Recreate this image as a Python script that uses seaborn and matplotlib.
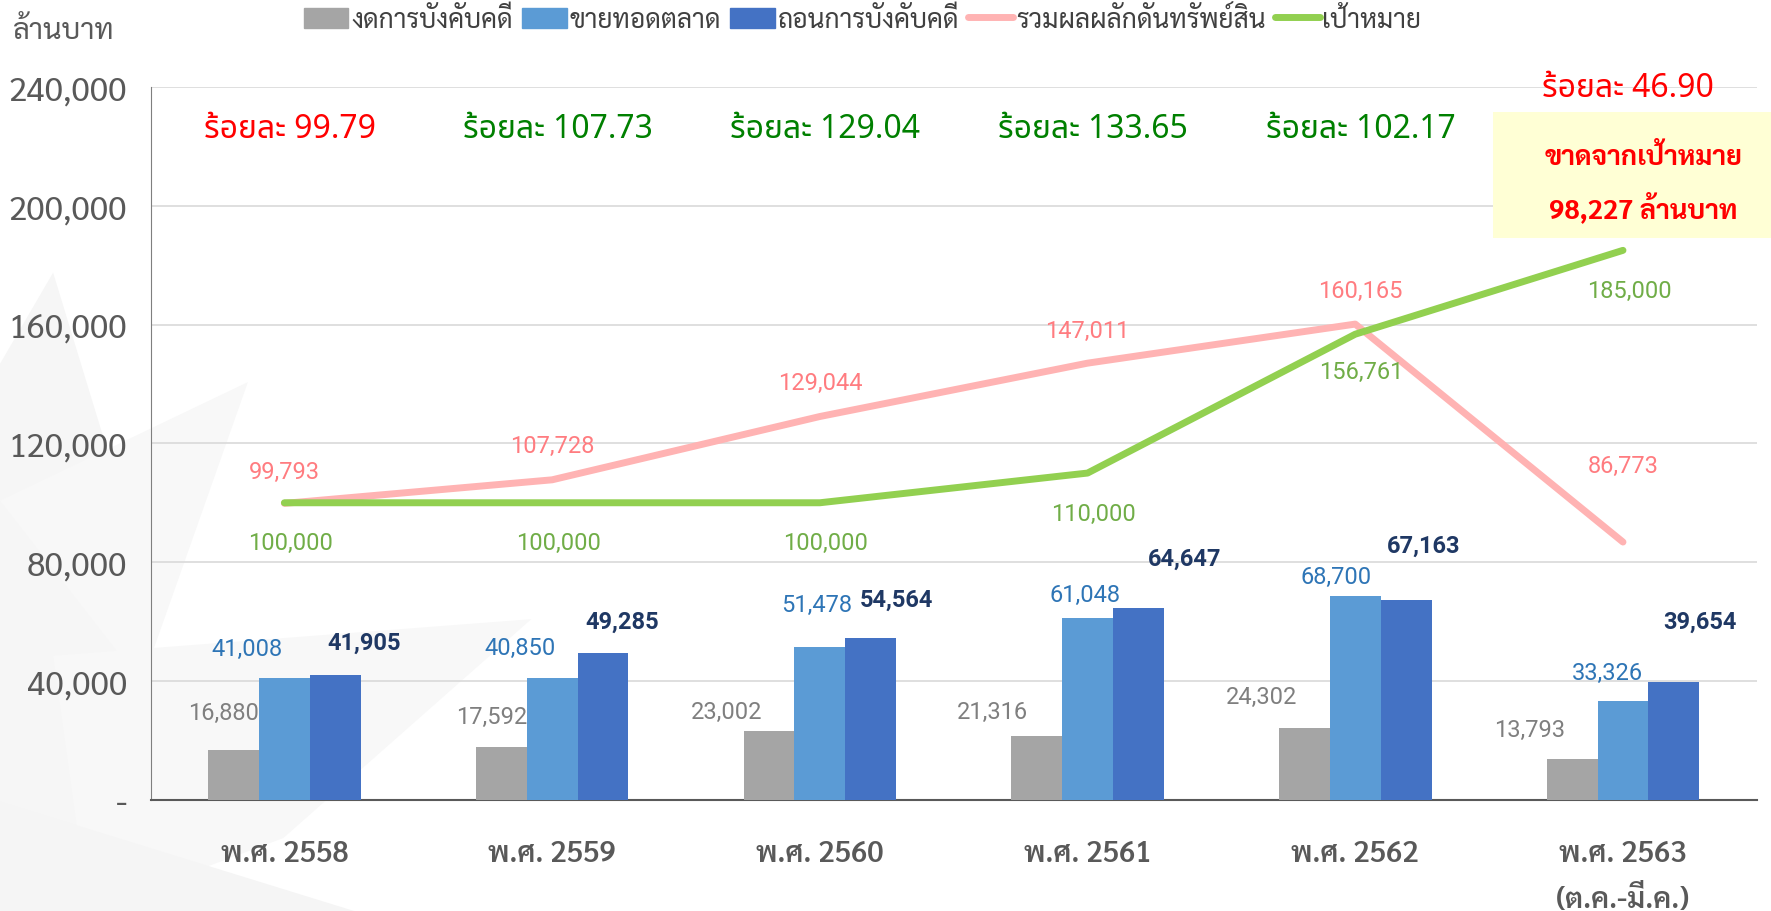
import matplotlib
matplotlib.use("Agg")
import numpy as np
import pandas as pd
import matplotlib.pyplot as plt
import seaborn as sns
from matplotlib.patches import Patch, Polygon, Rectangle
from matplotlib.lines import Line2D

years = ["พ.ศ. 2558", "พ.ศ. 2559", "พ.ศ. 2560", "พ.ศ. 2561", "พ.ศ. 2562", "พ.ศ. 2563\n(ต.ค.-มี.ค.)"]
suspend = [16880, 17592, 23002, 21316, 24302, 13793]      # งดการบังคับคดี
auction = [41008, 40850, 51478, 61048, 68700, 33326]      # ขายทอดตลาด
withdraw = [41905, 49285, 54564, 64647, 67163, 39654]     # ถอนการบังคับคดี
total = [99793, 107728, 129044, 147011, 160165, 86773]    # รวมผลผลักดันทรัพย์สิน
target = [100000, 100000, 100000, 110000, 156761, 185000] # เป้าหมาย
pct = ["ร้อยละ 99.79", "ร้อยละ 107.73", "ร้อยละ 129.04", "ร้อยละ 133.65", "ร้อยละ 102.17", "ร้อยละ 46.90"]
pct_ok = [False, True, True, True, True, False]
series = ["งดการบังคับคดี", "ขายทอดตลาด", "ถอนการบังคับคดี"]
yticks = [0, 40000, 80000, 120000, 160000, 200000, 240000]
ytick_labels = ["-", "40,000", "80,000", "120,000", "160,000", "200,000", "240,000"]
gap_lines = ["ขาดจากเป้าหมาย", "98,227 ล้านบาท"]

bar_colors = ["#A5A5A5", "#5B9BD5", "#4472C4"]
lbl_colors = ["#7F7F7F", "#2E75B6", "#1F3864"]
pink, green = "#FFB3B3", "#92D050"

sns.set_style("white")
thai = ["Noto Sans Thai", "Sarabun", "DejaVu Sans"]
narrow = ["Sarabun", "Noto Sans Thai", "DejaVu Sans"]
nums = ["Roboto", "DejaVu Sans"]
plt.rcParams["font.family"] = thai

df = pd.DataFrame({
    "year": np.repeat(years, 3),
    "series": series * len(years),
    "value": np.ravel(np.column_stack([suspend, auction, withdraw])),
})

fig = plt.figure(figsize=(17.71, 9.12), dpi=100, facecolor="white")

# faint background shapes (watermark on the left)
for pts, c in [
    ([(0, 0.60), (0.03, 0.70), (0.085, 0.35), (0.06, 0.0), (0, 0.0)], "#F6F6F6"),
    ([(0.0, 0.45), (0.14, 0.58), (0.08, 0.25)], "#F8F8F8"),
    ([(0.03, 0.28), (0.30, 0.32), (0.16, 0.08), (0.05, 0.0)], "#F8F8F8"),
    ([(0.0, 0.12), (0.20, 0.0), (0.0, 0.0)], "#F5F5F5"),
]:
    fig.patches.append(Polygon(pts, closed=True, transform=fig.transFigure,
                               facecolor=c, edgecolor="none", zorder=-10))

ax = fig.add_axes([0.085, 0.122, 0.907, 0.7815])
ax.set_facecolor("none")

sns.barplot(data=df, x="year", y="value", hue="series", hue_order=series,
            palette=bar_colors, width=0.57, gap=0, saturation=1, linewidth=0,
            ax=ax, legend=False, zorder=3)
xs = np.arange(len(years))
sns.lineplot(x=xs, y=total, color=pink, lw=5, ax=ax, zorder=4, solid_capstyle="round")
sns.lineplot(x=xs, y=target, color=green, lw=5, ax=ax, zorder=5, solid_capstyle="round")

ax.set_xlim(-0.5, 5.5)
ax.set_ylim(0, 240000)
ax.set_yticks(yticks)
ax.set_yticklabels(ytick_labels)
ax.set_xlabel("")
ax.set_ylabel("")
ax.grid(axis="y", color="#D9D9D9", lw=1.2, zorder=0)
for s in ["top", "right"]:
    ax.spines[s].set_visible(False)
ax.spines["left"].set_color("#7F7F7F")
ax.spines["bottom"].set_color("#595959")
ax.spines["bottom"].set_linewidth(1.5)
ax.tick_params(axis="y", direction="in", length=8, color="#7F7F7F", pad=17,
               labelsize=24, labelcolor="#595959")
for t in ax.get_yticklabels():
    t.set_family(narrow)
ax.set_xticks(np.arange(-0.5, 6, 1), minor=True)
ax.tick_params(axis="x", which="major", length=0, pad=28, labelsize=21, labelcolor="#595959")
ax.tick_params(axis="x", which="minor", direction="in", length=10, color="#7F7F7F")
for t in ax.get_xticklabels():
    t.set_family(narrow)
    t.set_fontweight("semibold")
    t.set_linespacing(1.7)

# bar labels
offs = [
    ([-10, -10, -42, -44, -43, -43], [37, 31, 20, 25, 31, 29]),
    ([-37, -32, -3, -3, -19, -16], [29, 31, 42, 24, 19, 28]),
    ([29, 19, 26, 46, 18, 26], [33, 32, 38, 49, 55, 61]),
]
for k, vals in enumerate([suspend, auction, withdraw]):
    dxs, dys = offs[k]
    for i, v in enumerate(vals):
        ax.annotate(f"{v:,}", (i + (k - 1) * 0.19, v), xytext=(dxs[i], dys[i]),
                    textcoords="offset pixels", ha="center", va="center",
                    fontsize=17, color=lbl_colors[k], family=nums,
                    fontweight="bold" if k == 2 else "normal", zorder=6)

pink_dy = [32, 34, 34, 33, 34, 77]
green_dy = [-40, -40, -40, -40, -37, -40]
for i in range(len(years)):
    ax.annotate(f"{total[i]:,}", (i, total[i]), xytext=(5 if i == 4 else 0, pink_dy[i]),
                textcoords="offset pixels", ha="center", va="center", fontsize=17,
                color="#FF7C80", family=nums, zorder=6)
    ax.annotate(f"{target[i]:,}", (i, target[i]), xytext=(6, green_dy[i]),
                textcoords="offset pixels", ha="center", va="center", fontsize=17,
                color="#70AD47", family=nums, zorder=6)

# percentage achieved
for i, p in enumerate(pct):
    y = 240000 if i == 5 else 226000
    ax.text(i + 0.02, y, p, ha="center", va="center", fontsize=23,
            color="#008000" if pct_ok[i] else "#FF0000", zorder=6)

# shortfall box
fig.patches.append(Rectangle((0.843, 0.738), 0.157, 0.138, transform=fig.transFigure,
                             facecolor="#FFFFD5", edgecolor="none", zorder=1))
fig.text(0.928, 0.827, gap_lines[0], ha="center", va="center", fontsize=19.5,
         fontweight="bold", color="#FF0000", family=narrow, zorder=7)
fig.text(0.928, 0.772, gap_lines[1], ha="center", va="center", fontsize=19.5,
         fontweight="bold", color="#FF0000", family=narrow, zorder=7)

fig.text(0.036, 0.966, "ล้านบาท", ha="center", va="center", fontsize=21,
         color="#595959", family=narrow)

handles = [Patch(color=c) for c in bar_colors] + [
    Line2D([], [], color=pink, lw=5), Line2D([], [], color=green, lw=5)]
labels = series + ["รวมผลผลักดันทรัพย์สิน", "เป้าหมาย"]
fig.legend(handles, labels, loc="center", bbox_to_anchor=(0.487, 0.977), ncol=5,
           frameon=False, prop={"family": narrow, "size": 19}, labelcolor="#404040",
           handlelength=1.7, handleheight=0.8, handletextpad=0.1, columnspacing=0.35)

fig.savefig("out.png", dpi=100, facecolor="white")
